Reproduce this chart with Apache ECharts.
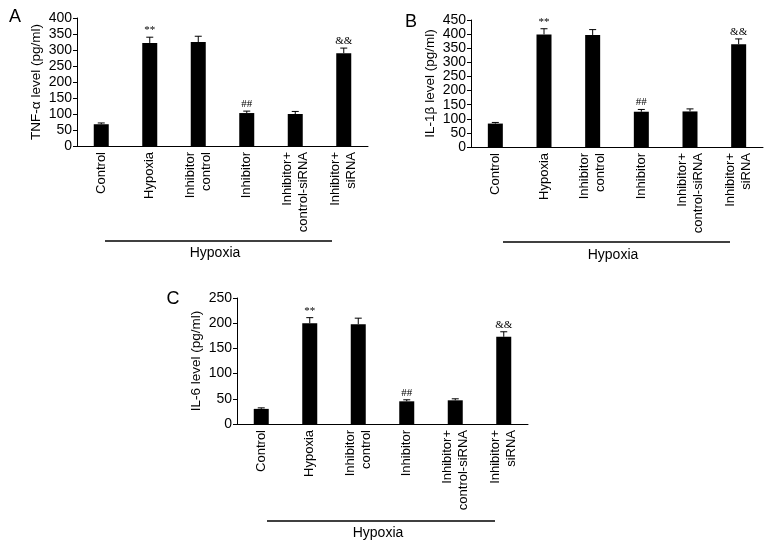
<!DOCTYPE html>
<html><head><meta charset="utf-8">
<script src="https://cdn.jsdelivr.net/npm/echarts@6/dist/echarts.min.js"></script>
<style>html,body{margin:0;padding:0;background:#fff}#c{width:774px;height:550px}</style>
</head><body><div id="c"></div>
<script>
var categories = ['Control','Hypoxia','Inhibitor\ncontrol','Inhibitor','Inhibitor+\ncontrol-siRNA','Inhibitor+\nsiRNA'];
var tnfValues = [68, 322, 325, 103, 100, 290];
var tnfErrors = [4, 18, 18, 6, 8, 16];
var il1bValues = [83, 399, 397, 125, 126, 364];
var il1bErrors = [4, 20, 19, 8, 9, 19];
var il6Values = [30, 200, 198, 45, 47, 173];
var il6Errors = [2, 11, 12, 3, 3, 10];
var marks = ['', '**', '', '##', '', '&&'];
var yMaxA = 400, yMaxB = 450, yMaxC = 250, yStep = 50;

var FONT = 'Liberation Sans, Arial, Helvetica, sans-serif';
var chart = echarts.init(document.getElementById('c'), null, {renderer: 'canvas'});

function xAxisOf(gi) {
  return {
    type: 'category', gridIndex: gi, data: categories,
    axisLine: {lineStyle: {color: '#000', width: 1}},
    axisTick: {inside: true, length: 4, lineStyle: {color: '#000'}, alignWithLabel: false},
    axisLabel: {rotate: 90, interval: 0, color: '#000', fontFamily: FONT, fontSize: 13, lineHeight: 16, margin: 6}
  };
}
function yAxisOf(gi, max, name) {
  return {
    type: 'value', gridIndex: gi, min: 0, max: max, interval: yStep,
    name: name, nameLocation: 'middle', nameGap: 34, nameRotate: 90,
    nameTextStyle: {color: '#000', fontFamily: FONT, fontSize: 13.5},
    splitLine: {show: false},
    axisLine: {show: true, lineStyle: {color: '#000', width: 1}},
    axisTick: {show: true, inside: false, length: 4, lineStyle: {color: '#000'}},
    axisLabel: {color: '#000', fontFamily: FONT, fontSize: 14, margin: 5}
  };
}
function barSeries(gi, vals) {
  return {type: 'bar', xAxisIndex: gi, yAxisIndex: gi, data: vals, barWidth: 15,
    itemStyle: {color: '#000'}, silent: true, animation: false};
}
function errSeries(gi, vals, errs) {
  var data = vals.map(function (v, i) { return [i, v, errs[i]]; });
  return {
    type: 'custom', xAxisIndex: gi, yAxisIndex: gi, data: data, animation: false, silent: true,
    renderItem: function (params, api) {
      var x = api.value(0), v = api.value(1), e = api.value(2);
      var p0 = api.coord([x, v]);
      var p1 = api.coord([x, v + e]);
      var mark = marks[params.dataIndex];
      var ch = [
        {type: 'line', shape: {x1: p0[0], y1: p0[1], x2: p1[0], y2: p1[1]}, style: {stroke: '#000', lineWidth: 1}},
        {type: 'line', shape: {x1: p1[0] - 3.5, y1: p1[1], x2: p1[0] + 3.5, y2: p1[1]}, style: {stroke: '#000', lineWidth: 1}}
      ];
      if (mark) {
        ch.push({type: 'text', style: {text: mark, x: p1[0], y: p1[1] - 7, textAlign: 'center', textVerticalAlign: 'middle',
          fill: '#000', font: '11px "Liberation Serif", "Times New Roman", serif'}});
      }
      return {type: 'group', children: ch};
    }
  };
}

var grids = [
  {left: 77, top: 18, width: 291, height: 128},
  {left: 471, top: 20, width: 292, height: 127},
  {left: 237, top: 298, width: 291, height: 126}
];

function hypoxia(x1, x2, y, tx, ty) {
  return [
    {type: 'line', shape: {x1: x1, y1: y, x2: x2, y2: y}, style: {stroke: '#000', lineWidth: 1.5}},
    {type: 'text', style: {text: 'Hypoxia', x: tx, y: ty, textAlign: 'center', textVerticalAlign: 'middle', fill: '#000', font: '14px ' + FONT}}
  ];
}
function letter(t, x, y) {
  return {type: 'text', style: {text: t, x: x, y: y, textAlign: 'center', textVerticalAlign: 'middle', fill: '#000', font: '18px ' + FONT}};
}

var graphics = [].concat(
  hypoxia(105, 332, 241, 215, 253),
  hypoxia(503, 730, 242, 613, 255),
  hypoxia(267, 495, 521, 378, 533),
  [letter('A', 15, 17), letter('B', 411, 22), letter('C', 173, 299)]
);

chart.setOption({
  backgroundColor: '#fff',
  animation: false,
  grid: grids,
  xAxis: [xAxisOf(0), xAxisOf(1), xAxisOf(2)],
  yAxis: [yAxisOf(0, yMaxA, 'TNF-α level (pg/ml)'), yAxisOf(1, yMaxB, 'IL-1β level (pg/ml)'), yAxisOf(2, yMaxC, 'IL-6 level (pg/ml)')],
  series: [
    barSeries(0, tnfValues), errSeries(0, tnfValues, tnfErrors),
    barSeries(1, il1bValues), errSeries(1, il1bValues, il1bErrors),
    barSeries(2, il6Values), errSeries(2, il6Values, il6Errors)
  ],
  graphic: graphics
});
</script></body></html>
